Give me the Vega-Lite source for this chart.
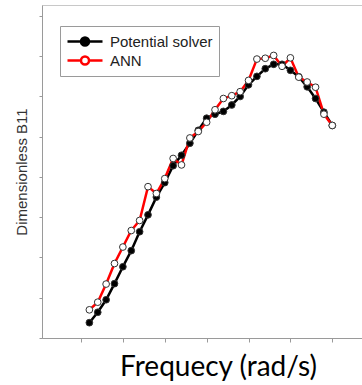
{
  "$schema": "https://vega.github.io/schema/vega-lite/v6.json",
  "width": 322,
  "height": 333,
  "autosize": "none",
  "padding": {"left": 42, "top": 5, "right": 0, "bottom": 47},
  "background": "white",
  "config": {
    "view": {"stroke": "#c8c8c8", "strokeWidth": 1},
    "axis": {"grid": false, "labels": false, "domainColor": "#9a9a9a", "tickColor": "#9a9a9a", "domainWidth": 1, "tickWidth": 1},
    "legend": {
      "orient": "none", "legendX": 18, "legendY": 21,
      "fillColor": "white", "strokeColor": "#9a9a9a", "padding": 6,
      "symbolType": "M-1,0H0.6875M1.6875,0H3.375M1.6875,0A0.5,0.5,0,1,1,0.6875,0A0.5,0.5,0,1,1,1.6875,0Z",
      "symbolSize": 256, "symbolStrokeWidth": 2.5,
      "labelFont": "Liberation Sans", "labelFontSize": 15, "labelColor": "#222", "labelOffset": 25,
      "rowPadding": 0, "title": null
    }
  },
  "data": {"values": [
    {"x":1.2,"y":0.38,"s":"Potential solver"},{"x":1.4,"y":0.64,"s":"Potential solver"},{"x":1.6,"y":0.95,"s":"Potential solver"},{"x":1.8,"y":1.35,"s":"Potential solver"},{"x":2.0,"y":1.77,"s":"Potential solver"},{"x":2.2,"y":2.17,"s":"Potential solver"},{"x":2.4,"y":2.64,"s":"Potential solver"},{"x":2.6,"y":3.06,"s":"Potential solver"},{"x":2.8,"y":3.50,"s":"Potential solver"},{"x":3.0,"y":3.86,"s":"Potential solver"},{"x":3.2,"y":4.28,"s":"Potential solver"},{"x":3.4,"y":4.54,"s":"Potential solver"},{"x":3.6,"y":4.84,"s":"Potential solver"},{"x":3.8,"y":5.16,"s":"Potential solver"},{"x":4.0,"y":5.46,"s":"Potential solver"},{"x":4.2,"y":5.56,"s":"Potential solver"},{"x":4.4,"y":5.63,"s":"Potential solver"},{"x":4.6,"y":5.79,"s":"Potential solver"},{"x":4.8,"y":6.00,"s":"Potential solver"},{"x":5.0,"y":6.29,"s":"Potential solver"},{"x":5.2,"y":6.50,"s":"Potential solver"},{"x":5.4,"y":6.69,"s":"Potential solver"},{"x":5.6,"y":6.80,"s":"Potential solver"},{"x":5.8,"y":6.80,"s":"Potential solver"},{"x":6.0,"y":6.65,"s":"Potential solver"},{"x":6.2,"y":6.49,"s":"Potential solver"},{"x":6.4,"y":6.24,"s":"Potential solver"},{"x":6.6,"y":5.95,"s":"Potential solver"},{"x":6.8,"y":5.61,"s":"Potential solver"},{"x":7.0,"y":5.28,"s":"Potential solver"},
    {"x":1.2,"y":0.70,"s":"ANN"},{"x":1.4,"y":0.89,"s":"ANN"},{"x":1.6,"y":1.34,"s":"ANN"},{"x":1.8,"y":1.85,"s":"ANN"},{"x":2.0,"y":2.26,"s":"ANN"},{"x":2.2,"y":2.67,"s":"ANN"},{"x":2.4,"y":2.92,"s":"ANN"},{"x":2.6,"y":3.76,"s":"ANN"},{"x":2.8,"y":3.59,"s":"ANN"},{"x":3.0,"y":3.96,"s":"ANN"},{"x":3.2,"y":4.46,"s":"ANN"},{"x":3.4,"y":4.30,"s":"ANN"},{"x":3.6,"y":4.97,"s":"ANN"},{"x":3.8,"y":5.13,"s":"ANN"},{"x":4.0,"y":5.36,"s":"ANN"},{"x":4.2,"y":5.67,"s":"ANN"},{"x":4.4,"y":5.95,"s":"ANN"},{"x":4.6,"y":6.02,"s":"ANN"},{"x":4.8,"y":6.12,"s":"ANN"},{"x":5.0,"y":6.40,"s":"ANN"},{"x":5.2,"y":6.93,"s":"ANN"},{"x":5.4,"y":6.95,"s":"ANN"},{"x":5.6,"y":7.02,"s":"ANN"},{"x":5.8,"y":6.75,"s":"ANN"},{"x":6.0,"y":6.96,"s":"ANN"},{"x":6.2,"y":6.48,"s":"ANN"},{"x":6.4,"y":6.36,"s":"ANN"},{"x":6.6,"y":6.23,"s":"ANN"},{"x":6.8,"y":5.56,"s":"ANN"},{"x":7.0,"y":5.28,"s":"ANN"}
  ]},
  "encoding": {
    "x": {"field": "x", "type": "quantitative",
      "scale": {"domain": [0.069, 7.757], "nice": false, "zero": false},
      "axis": {"values": [1,2,3,4,5,6,7], "tickSize": 4, "title": "Frequecy (rad/s)",
        "titleFont": "Lato", "titleFontSize": 28, "titleFontWeight": "normal", "titleColor": "#000",
        "titleX": 176, "titleY": 37, "titleBaseline": "alphabetic", "titleAlign": "center"}},
    "y": {"field": "y", "type": "quantitative",
      "scale": {"domain": [0, 8.273], "nice": false, "zero": false},
      "axis": {"values": [0,1,2,3,4,5,6,7,8], "tickSize": 3, "title": "Dimensionless B11",
        "titleFont": "Liberation Sans", "titleFontSize": 15, "titleFontWeight": "normal", "titleColor": "#333", "titlePadding": 9}}
  },
  "layer": [
    {"mark": {"type": "line", "strokeWidth": 2.5},
     "encoding": {"stroke": {"field": "s", "type": "nominal",
        "scale": {"domain": ["Potential solver", "ANN"], "range": ["#000000", "#ff0000"]}}}},
    {"mark": {"type": "point", "filled": true, "size": 45, "opacity": 1, "stroke": "#333", "strokeWidth": 1},
     "encoding": {"fill": {"field": "s", "type": "nominal",
        "scale": {"domain": ["Potential solver", "ANN"], "range": ["#000000", "#ffffff"]}}}}
  ]
}
